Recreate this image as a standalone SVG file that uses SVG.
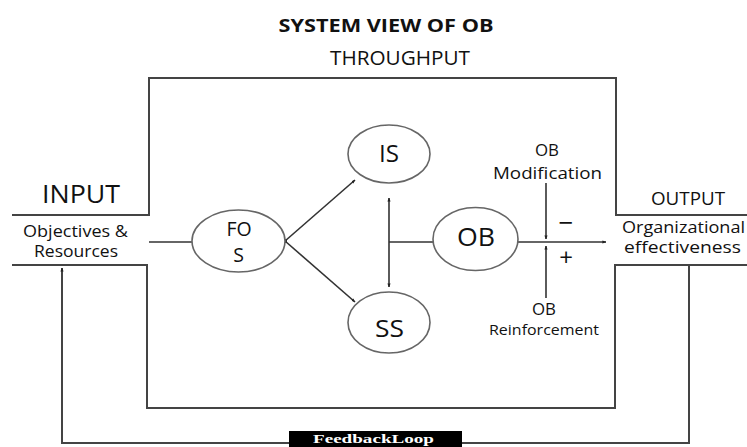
<svg xmlns="http://www.w3.org/2000/svg" width="747" height="447" viewBox="0 0 747 447">
<defs>
<style>
.t{font-family:"Open Sans","Noto Sans",sans-serif;fill:#111;}
.box{fill:none;stroke:#444;stroke-width:2;}
.ln{fill:none;stroke:#333;stroke-width:1.6;}
.el{fill:#fff;stroke:#666;stroke-width:1.6;}
</style>
<marker id="ah" viewBox="0 0 10 10" refX="9" refY="5" markerWidth="4" markerHeight="4" orient="auto-start-reverse" markerUnits="userSpaceOnUse">
<path d="M0,1 L10,5 L0,9 z" fill="#222"/>
</marker>
</defs>
<rect width="747" height="447" fill="#fff"/>
<text class="t" x="386" y="32" font-size="18" font-weight="bold" text-anchor="middle" textLength="215" lengthAdjust="spacingAndGlyphs">SYSTEM VIEW OF OB</text>
<g id="throughput">
<path class="box" d="M12,215 H149 V78 H616 V215 H747"/>
<path class="box" d="M12,265 H147 V408 H615 V265 H747"/>
<text class="t" x="400" y="65" font-size="20" text-anchor="middle" textLength="140" lengthAdjust="spacingAndGlyphs">THROUGHPUT</text>
</g>
<g id="input">
<text class="t" x="81" y="203" font-size="25" text-anchor="middle" textLength="78" lengthAdjust="spacingAndGlyphs">INPUT</text>
<text class="t" x="75.5" y="237" font-size="15.5" text-anchor="middle" textLength="105" lengthAdjust="spacingAndGlyphs">Objectives &amp;</text>
<text class="t" x="76" y="257" font-size="15.5" text-anchor="middle" textLength="84" lengthAdjust="spacingAndGlyphs">Resources</text>
</g>
<g id="output">
<text class="t" x="688" y="205" font-size="18" text-anchor="middle" textLength="74" lengthAdjust="spacingAndGlyphs">OUTPUT</text>
<text class="t" x="683.5" y="233" font-size="15.5" text-anchor="middle" textLength="123" lengthAdjust="spacingAndGlyphs">Organizational</text>
<text class="t" x="682.5" y="253" font-size="15.5" text-anchor="middle" textLength="117" lengthAdjust="spacingAndGlyphs">effectiveness</text>
</g>
<g id="connectors">
<line class="ln" x1="149" y1="242" x2="192" y2="242"/>
<line class="ln" x1="285" y1="241" x2="355" y2="180" marker-end="url(#ah)"/>
<line class="ln" x1="285" y1="241" x2="355" y2="302" marker-end="url(#ah)"/>
<circle cx="285" cy="241" r="2" fill="#222"/>
<line class="ln" x1="389" y1="198" x2="389" y2="287" marker-start="url(#ah)" marker-end="url(#ah)"/>
<line class="ln" x1="389" y1="242" x2="433" y2="242"/>
<line class="ln" x1="518" y1="242" x2="606" y2="242" marker-end="url(#ah)"/>
<line class="ln" x1="546" y1="183" x2="546" y2="239" marker-end="url(#ah)"/>
<line class="ln" x1="546" y1="298" x2="546" y2="246" marker-end="url(#ah)"/>
<path class="box" d="M689,265 V443 H62 V268" marker-end="url(#ah)"/>
</g>
<g id="FOS">
<ellipse class="el" cx="238.5" cy="241" rx="46.5" ry="31"/>
<text class="t" x="239" y="236" font-size="19.5" text-anchor="middle">FO</text>
<text class="t" x="238.5" y="262" font-size="19.5" text-anchor="middle">S</text>
</g>
<g id="IS">
<ellipse class="el" cx="389" cy="154" rx="41" ry="29"/>
<text class="t" x="389" y="162" font-size="23" text-anchor="middle" textLength="20" lengthAdjust="spacingAndGlyphs">IS</text>
</g>
<g id="SS">
<ellipse class="el" cx="389" cy="322.5" rx="41" ry="30.5"/>
<text class="t" x="389.5" y="337" font-size="24" text-anchor="middle" textLength="29" lengthAdjust="spacingAndGlyphs">SS</text>
</g>
<g id="OB">
<ellipse class="el" cx="475.5" cy="239" rx="42.5" ry="31.5"/>
<text class="t" x="476" y="246" font-size="26" text-anchor="middle" textLength="38" lengthAdjust="spacingAndGlyphs">OB</text>
</g>
<g id="OB-modification">
<text class="t" x="547" y="156" font-size="17" text-anchor="middle" textLength="24" lengthAdjust="spacingAndGlyphs">OB</text>
<text class="t" x="547.5" y="179" font-size="17" text-anchor="middle" textLength="109" lengthAdjust="spacingAndGlyphs">Modification</text>
<text class="t" x="566" y="232" font-size="26" text-anchor="middle">−</text>
<text class="t" x="566" y="266" font-size="24" text-anchor="middle">+</text>
</g>
<g id="OB-reinforcement">
<text class="t" x="544" y="315" font-size="17" text-anchor="middle" textLength="24" lengthAdjust="spacingAndGlyphs">OB</text>
<text class="t" x="544" y="335" font-size="15" text-anchor="middle" textLength="110" lengthAdjust="spacingAndGlyphs">Reinforcement</text>
</g>
<g id="feedback-loop">
<rect x="289" y="431" width="173" height="16" fill="#000"/>
<text x="373.5" y="443" font-family="'Liberation Serif','DejaVu Serif',serif" font-size="12" font-weight="bold" fill="#fff" text-anchor="middle" textLength="121" lengthAdjust="spacingAndGlyphs">FeedbackLoop</text>
</g>
</svg>
